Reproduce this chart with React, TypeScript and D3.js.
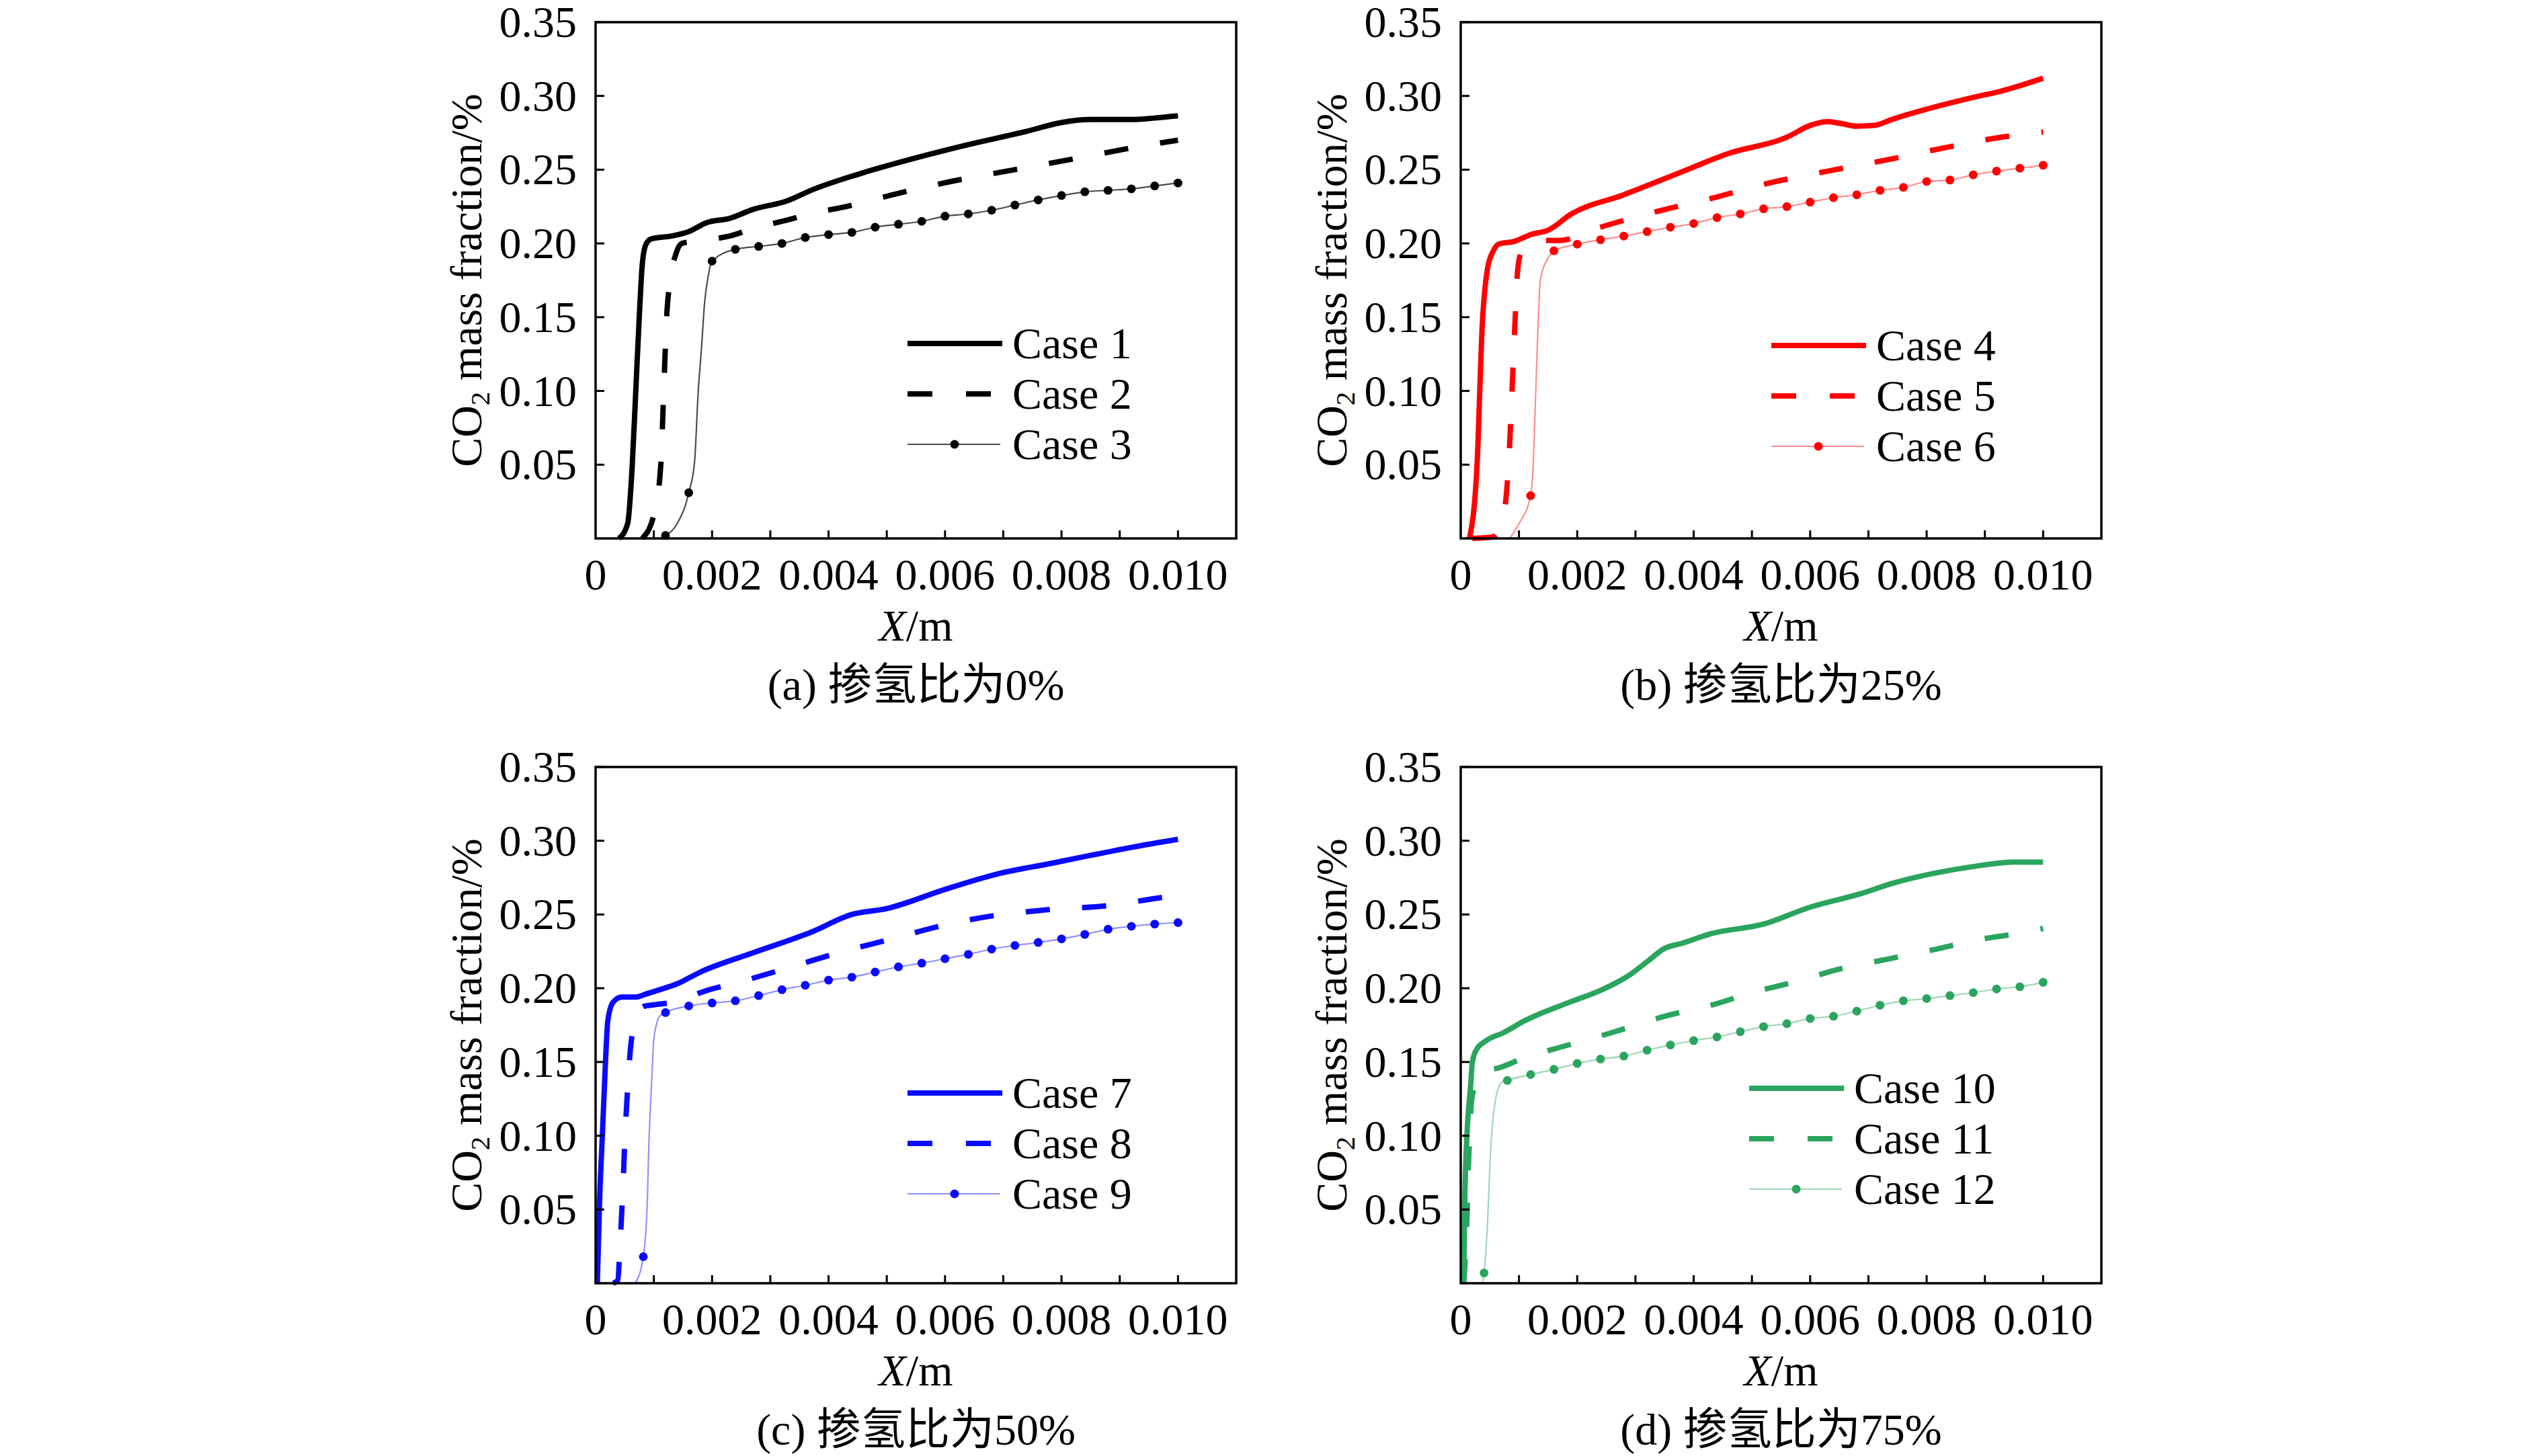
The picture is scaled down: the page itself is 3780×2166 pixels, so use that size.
import * as d3 from 'd3';

type Pt = [number, number, number?];

// x (m), CO2 mass fraction, 1 = marker drawn on this point
const case1: Pt[] = [
  [0.0004, 0], [0.00055, 0.01], [0.00063, 0.05], [0.00069, 0.1], [0.00075, 0.15], [0.0008, 0.185],
  [0.00086, 0.199], [0.00095, 0.203], [0.0013, 0.205], [0.0016, 0.208], [0.0019, 0.214], [0.0023, 0.217],
  [0.0027, 0.223], [0.0033, 0.229], [0.0037, 0.236], [0.0046, 0.248], [0.0055, 0.258], [0.0064, 0.267],
  [0.0074, 0.276], [0.008, 0.282], [0.0085, 0.284], [0.0092, 0.284], [0.0096, 0.285], [0.01, 0.2865],
];
const case2: Pt[] = [
  [0.0008, 0], [0.001, 0.016], [0.00112, 0.05], [0.00117, 0.1], [0.00122, 0.15], [0.00128, 0.175],
  [0.00138, 0.193], [0.00148, 0.2], [0.0017, 0.2015], [0.0023, 0.205], [0.0027, 0.21], [0.0033, 0.216],
  [0.0038, 0.221], [0.0043, 0.225], [0.0052, 0.234], [0.0061, 0.242], [0.0072, 0.25], [0.0083, 0.258],
  [0.0093, 0.2655], [0.01, 0.27],
];
const case3: Pt[] = [
  [0.0012, 0.002, 1], [0.0014, 0.01], [0.0016, 0.031, 1], [0.0017, 0.052], [0.00176, 0.098], [0.00182, 0.13],
  [0.00187, 0.159], [0.00193, 0.177], [0.002, 0.188, 1], [0.0024, 0.196, 1], [0.0028, 0.198, 1], [0.0032, 0.2, 1],
  [0.0036, 0.204, 1], [0.004, 0.206, 1], [0.0044, 0.2075, 1], [0.0048, 0.211, 1], [0.0052, 0.213, 1],
  [0.0056, 0.215, 1], [0.006, 0.2185, 1], [0.0064, 0.22, 1], [0.0068, 0.2225, 1], [0.0072, 0.226, 1],
  [0.0076, 0.2295, 1], [0.008, 0.2325, 1], [0.0084, 0.235, 1], [0.0088, 0.236, 1], [0.0092, 0.237, 1],
  [0.0096, 0.239, 1], [0.01, 0.241, 1],
];
const case4: Pt[] = [
  [0.00015, 0], [0.00028, 0.05], [0.00037, 0.145], [0.00046, 0.183], [0.00056, 0.195], [0.00065, 0.1995],
  [0.00093, 0.2015], [0.0012, 0.206], [0.0015, 0.209], [0.0019, 0.22], [0.0028, 0.233], [0.0037, 0.247],
  [0.0046, 0.261], [0.0056, 0.272], [0.006, 0.28], [0.0063, 0.2825], [0.0065, 0.2815], [0.0068, 0.2795],
  [0.0071, 0.28], [0.0074, 0.284], [0.008, 0.291], [0.0088, 0.299], [0.0093, 0.3035], [0.01, 0.312],
];
const case5: Pt[] = [
  [0.0002, 0], [0.00055, 0.001], [0.00074, 0.017], [0.00084, 0.064], [0.00088, 0.1], [0.00093, 0.145],
  [0.00098, 0.183], [0.00105, 0.195], [0.0012, 0.2005], [0.0014, 0.202], [0.0017, 0.202], [0.0024, 0.211],
  [0.0034, 0.222], [0.0044, 0.2315], [0.0053, 0.241], [0.0063, 0.249], [0.0073, 0.2565], [0.0082, 0.264],
  [0.0092, 0.2715], [0.01, 0.2755],
];
const case6: Pt[] = [
  [0.00084, 0], [0.001, 0.01], [0.0012, 0.029, 1], [0.00125, 0.055], [0.0013, 0.114], [0.00137, 0.176],
  [0.0015, 0.19], [0.0016, 0.195, 1], [0.002, 0.1995, 1], [0.0024, 0.2025, 1], [0.0028, 0.205, 1],
  [0.0032, 0.208, 1], [0.0036, 0.211, 1], [0.004, 0.2135, 1], [0.0044, 0.2175, 1], [0.0048, 0.22, 1],
  [0.0052, 0.2235, 1], [0.0056, 0.225, 1], [0.006, 0.228, 1], [0.0064, 0.231, 1], [0.0068, 0.233, 1],
  [0.0072, 0.236, 1], [0.0076, 0.238, 1], [0.008, 0.242, 1], [0.0084, 0.243, 1], [0.0088, 0.2465, 1],
  [0.0092, 0.249, 1], [0.0096, 0.251, 1], [0.01, 0.253, 1],
];
const case7: Pt[] = [
  [0.00003, 0], [0.00007, 0.057], [0.00012, 0.1035], [0.00017, 0.15], [0.00021, 0.178], [0.0003, 0.1905],
  [0.00045, 0.194], [0.00068, 0.194], [0.00086, 0.196], [0.0011, 0.199], [0.0014, 0.203], [0.0018, 0.211],
  [0.0027, 0.224], [0.0037, 0.238], [0.0044, 0.25], [0.005, 0.254], [0.006, 0.267], [0.0069, 0.2775],
  [0.0078, 0.2845], [0.0083, 0.2885], [0.0092, 0.2955], [0.01, 0.301],
];
const case8: Pt[] = [
  [0.0003, 0], [0.00038, 0.002], [0.00042, 0.026], [0.00047, 0.066], [0.00051, 0.1035], [0.00056, 0.138],
  [0.0006, 0.1595], [0.00072, 0.183], [0.00086, 0.188], [0.00105, 0.189], [0.0015, 0.192], [0.0018, 0.197],
  [0.0025, 0.2045], [0.0034, 0.215], [0.0043, 0.2255], [0.005, 0.2325], [0.0059, 0.242], [0.0068, 0.249],
  [0.0077, 0.253], [0.0088, 0.256], [0.0098, 0.262], [0.01, 0.263],
];
const case9: Pt[] = [
  [0.00068, 0], [0.00082, 0.018, 1], [0.00089, 0.057], [0.00091, 0.088], [0.00096, 0.1345], [0.001, 0.1655],
  [0.0011, 0.181], [0.0012, 0.1835, 1], [0.0016, 0.188, 1], [0.002, 0.19, 1], [0.0024, 0.1915, 1],
  [0.0028, 0.195, 1], [0.0032, 0.199, 1], [0.0036, 0.202, 1], [0.004, 0.2055, 1], [0.0044, 0.2075, 1],
  [0.0048, 0.211, 1], [0.0052, 0.2145, 1], [0.0056, 0.217, 1], [0.006, 0.22, 1], [0.0064, 0.223, 1],
  [0.0068, 0.2265, 1], [0.0072, 0.229, 1], [0.0076, 0.231, 1], [0.008, 0.2335, 1], [0.0084, 0.2365, 1],
  [0.0088, 0.24, 1], [0.0092, 0.242, 1], [0.0096, 0.2435, 1], [0.01, 0.2445, 1],
];
const case10: Pt[] = [
  [0.00005, 0], [0.00007, 0.057], [0.00011, 0.103], [0.00017, 0.134], [0.0002, 0.15], [0.00028, 0.159],
  [0.00042, 0.164], [0.00074, 0.17], [0.0011, 0.178], [0.0019, 0.191], [0.0024, 0.1985], [0.0029, 0.209],
  [0.0032, 0.218], [0.0035, 0.227], [0.0038, 0.2305], [0.0043, 0.237], [0.0052, 0.2435], [0.006, 0.255],
  [0.0069, 0.2645], [0.0074, 0.271], [0.0082, 0.2785], [0.0088, 0.2825], [0.0095, 0.2855], [0.01, 0.2855],
];
const case11: Pt[] = [
  [0.00005, 0], [0.0001, 0.035], [0.00014, 0.088], [0.00019, 0.125], [0.00028, 0.1375], [0.00042, 0.144],
  [0.00065, 0.146], [0.0011, 0.153], [0.0018, 0.161], [0.0026, 0.17], [0.0035, 0.181], [0.0043, 0.1885],
  [0.005, 0.197], [0.0058, 0.205], [0.0065, 0.213], [0.0073, 0.2195], [0.0081, 0.226], [0.0089, 0.233],
  [0.0097, 0.238], [0.01, 0.2405],
];
const case12: Pt[] = [
  [0.00037, 0], [0.0004, 0.007, 1], [0.00046, 0.041], [0.00051, 0.088], [0.0006, 0.125], [0.0007, 0.136],
  [0.0008, 0.1375, 1], [0.0012, 0.1415, 1], [0.0016, 0.145, 1], [0.002, 0.149, 1], [0.0024, 0.152, 1],
  [0.0028, 0.154, 1], [0.0032, 0.158, 1], [0.0036, 0.1615, 1], [0.004, 0.1645, 1], [0.0044, 0.167, 1],
  [0.0048, 0.1705, 1], [0.0052, 0.174, 1], [0.0056, 0.176, 1], [0.006, 0.1795, 1], [0.0064, 0.181, 1],
  [0.0068, 0.1845, 1], [0.0072, 0.1885, 1], [0.0076, 0.1915, 1], [0.008, 0.193, 1], [0.0084, 0.195, 1],
  [0.0088, 0.197, 1], [0.0092, 0.1995, 1], [0.0096, 0.201, 1], [0.01, 0.204, 1],
];

const xTickValues = [0, 0.002, 0.004, 0.006, 0.008, 0.01];
const xTickLabels = ['0', '0.002', '0.004', '0.006', '0.008', '0.010'];
const xMinorTicks = [0.001, 0.002, 0.003, 0.004, 0.005, 0.006, 0.007, 0.008, 0.009, 0.01];
const yTickValues = [0.05, 0.1, 0.15, 0.2, 0.25, 0.3, 0.35];
const yTickLabels = ['0.05', '0.10', '0.15', '0.20', '0.25', '0.30', '0.35'];

const captions = ['(a) 掺氢比为0%', '(b) 掺氢比为25%', '(c) 掺氢比为50%', '(d) 掺氢比为75%'];
const colors = ['#000000', '#ff0000', '#0a0aff', '#2ba55e'];
const caseNames = [
  ['Case 1', 'Case 2', 'Case 3'],
  ['Case 4', 'Case 5', 'Case 6'],
  ['Case 7', 'Case 8', 'Case 9'],
  ['Case 10', 'Case 11', 'Case 12'],
];
const caseSeries = [
  [case1, case2, case3],
  [case4, case5, case6],
  [case7, case8, case9],
  [case10, case11, case12],
];

const W = 3780;
const H = 2166;
const colLeft = [886, 2173];
const rowTop = [33, 1141];
const plotW = 953;
const plotH = 768;
const legendDx = [464, 462, 464, 429];
const legendDy = [478, 481, 485, 478];

const FONT = '"Liberation Serif", "Times New Roman", serif';
const CJK = '"Liberation Serif", "Noto Sans CJK SC", serif';
const FS = 66;
const DASH = '36 48';

function Panel({ idx }: { idx: number }) {
  const left = colLeft[idx % 2];
  const top = rowTop[Math.floor(idx / 2)];
  const color = colors[idx];
  const series = caseSeries[idx];
  const names = caseNames[idx];

  const x = d3.scaleLinear().domain([0, 0.011]).range([left, left + plotW]);
  const y = d3.scaleLinear().domain([0, 0.35]).range([top + plotH, top]);
  const line = d3
    .line<Pt>()
    .curve(d3.curveMonotoneX)
    .x((d) => x(d[0]))
    .y((d) => y(d[1]));

  const bottom = top + plotH;
  const styles = [
    { width: 8, dash: undefined as string | undefined, opacity: 1 },
    { width: 8, dash: DASH, opacity: 1 },
    { width: 2.2, dash: undefined as string | undefined, opacity: idx === 0 ? 0.7 : 0.45 },
  ];

  const lx = left + legendDx[idx];
  const ly = top + legendDy[idx];
  const rowGap = 75;

  return (
    <g>
      {series.map((s, i) => (
        <path
          key={i}
          d={line(s) ?? ''}
          fill="none"
          stroke={color}
          strokeWidth={styles[i].width}
          strokeDasharray={styles[i].dash}
          strokeOpacity={styles[i].opacity}
          strokeLinejoin="round"
        />
      ))}
      {series[2]
        .filter((d) => d[2] === 1)
        .map((d, i) => (
          <circle key={i} cx={x(d[0])} cy={y(d[1])} r={6.5} fill={color} />
        ))}

      <rect x={left} y={top} width={plotW} height={plotH} fill="none" stroke="#000" strokeWidth={3.5} />
      {xMinorTicks.map((t) => (
        <line key={t} x1={x(t)} x2={x(t)} y1={bottom} y2={bottom - 12} stroke="#000" strokeWidth={3} />
      ))}
      {yTickValues.map((t) => (
        <line key={t} x1={left} x2={left + 13} y1={y(t)} y2={y(t)} stroke="#000" strokeWidth={3} />
      ))}
      {xTickValues.map((t, i) => (
        <text key={t} x={x(t)} y={bottom + 76} textAnchor="middle" fontFamily={FONT} fontSize={FS}>
          {xTickLabels[i]}
        </text>
      ))}
      {yTickValues.map((t, i) => (
        <text key={t} x={left - 28} y={y(t) + 22} textAnchor="end" fontFamily={FONT} fontSize={FS}>
          {yTickLabels[i]}
        </text>
      ))}

      <text x={left + plotW / 2} y={bottom + 152} textAnchor="middle" fontFamily={FONT} fontSize={FS}>
        <tspan fontStyle="italic">X</tspan>/m
      </text>
      <text x={left + plotW / 2} y={bottom + 240} textAnchor="middle" fontFamily={CJK} fontSize={FS}>
        {captions[idx]}
      </text>
      <text
        transform={`translate(${left - 170},${top + plotH / 2}) rotate(-90)`}
        textAnchor="middle"
        fontFamily={FONT}
        fontSize={FS}
      >
        CO<tspan fontSize={FS * 0.62} dy={12}>2</tspan>
        <tspan dy={-12}> mass fraction/%</tspan>
      </text>

      {names.map((n, i) => {
        const yy = ly + i * rowGap;
        return (
          <g key={n}>
            {i === 0 && <line x1={lx} x2={lx + 141} y1={yy} y2={yy} stroke={color} strokeWidth={8} />}
            {i === 1 && (
              <line x1={lx} x2={lx + 124} y1={yy} y2={yy} stroke={color} strokeWidth={8} strokeDasharray="37 50" />
            )}
            {i === 2 && (
              <g>
                <line
                  x1={lx}
                  x2={lx + 138}
                  y1={yy}
                  y2={yy}
                  stroke={color}
                  strokeWidth={2.2}
                  strokeOpacity={styles[2].opacity}
                />
                <circle cx={lx + 70} cy={yy} r={6.5} fill={color} />
              </g>
            )}
            <text x={lx + 156} y={yy + 22} fontFamily={FONT} fontSize={FS}>
              {n}
            </text>
          </g>
        );
      })}
    </g>
  );
}

export default function App() {
  return (
    <svg
      width={W}
      height={H}
      viewBox={`0 0 ${W} ${H}`}
      style={{ position: 'absolute', left: 0, top: 0, background: '#fff' }}
    >
      <rect width={W} height={H} fill="#fff" />
      {[0, 1, 2, 3].map((i) => (
        <Panel key={i} idx={i} />
      ))}
    </svg>
  );
}
